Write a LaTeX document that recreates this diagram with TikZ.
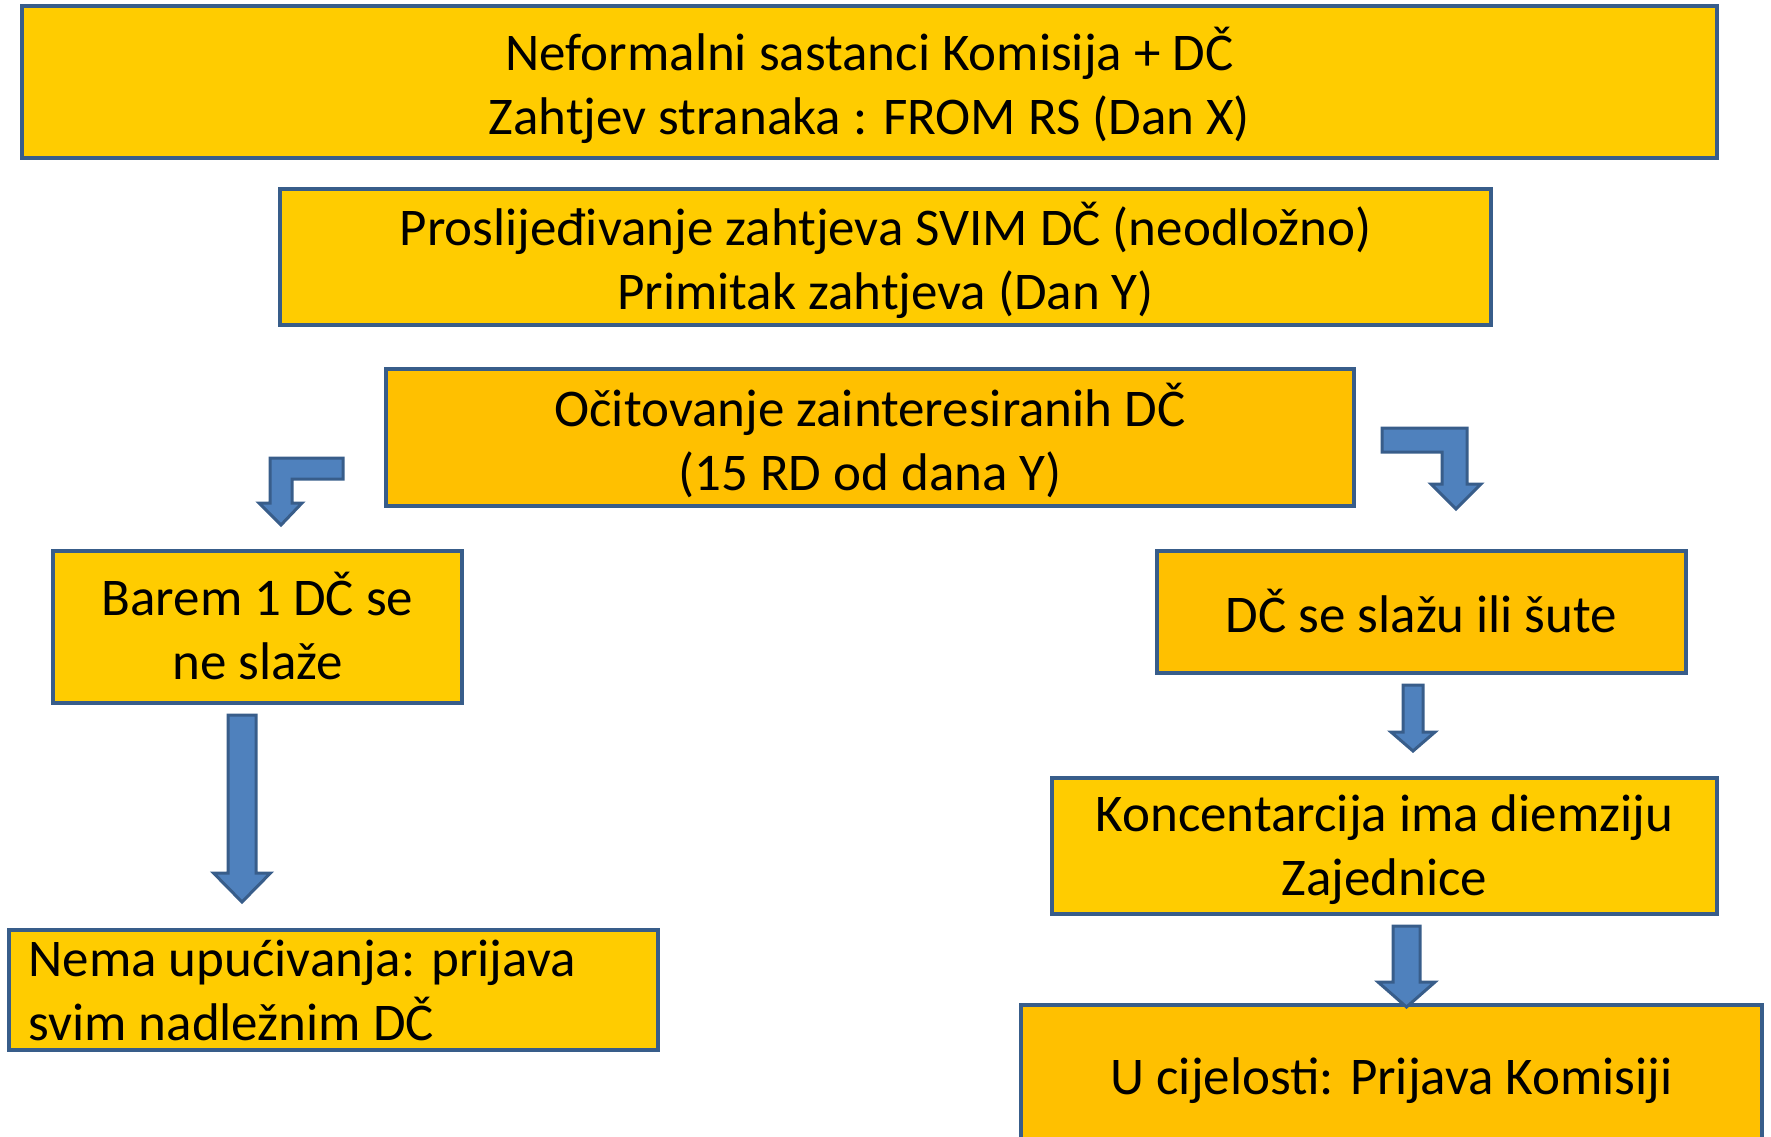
\documentclass[tikz,border=0pt]{standalone}
\usepackage{fontspec}
\setmainfont{Carlito}
\definecolor{gold}{HTML}{FFCC00}
\definecolor{amber}{HTML}{FFC000}
\definecolor{frame}{HTML}{385D8A}
\definecolor{arrowblue}{HTML}{4F81BD}
\begin{document}
\begin{tikzpicture}[x=1pt,y=-1pt,line join=miter]
		\tikzset{box/.style={draw=frame,line width=4.5pt,rectangle,inner sep=0pt,font=\fontsize{53}{64}\selectfont,align=center,text depth=2pt},
			goldbox/.style={box,fill=gold},
			amberbox/.style={box,fill=amber},
			blockarrow/.style={draw=frame,fill=arrowblue,line width=3pt}}
		\useasboundingbox (0,0) rectangle (1771,1136);
		\node[goldbox,minimum width=1695pt,minimum height=152pt] (sastanci) at (869.5,82) {Neformalni sastanci Komisija + DČ\\Zahtjev stranaka : FROM RS (Dan X)};
		\node[goldbox,minimum width=1211pt,minimum height=136pt] (prosljedivanje) at (885.5,257) {Proslijeđivanje zahtjeva SVIM DČ (neodložno)\\Primitak zahtjeva (Dan Y)};
		\node[amberbox,minimum width=968pt,minimum height=137pt] (ocitovanje) at (870,437.5) {Očitovanje zainteresiranih DČ\\(15 RD od dana Y)};
		\node[goldbox,minimum width=409pt,minimum height=152pt] (barem) at (257.5,627) {Barem 1 DČ se\\ne slaže};
		\node[amberbox,minimum width=529pt,minimum height=122pt] (slazu) at (1421.5,612) {DČ se slažu ili šute};
		\node[goldbox,minimum width=649pt,minimum height=120pt,align=flush left,text width=610pt,text depth={}] (nema) at (333.5,990) {Nema upućivanja: prijava\\svim nadležnim DČ};
		\node[goldbox,minimum width=665pt,minimum height=136pt] (koncentracija) at (1384.5,846) {Koncentarcija ima diemziju\\Zajednice};
		\node[amberbox,minimum width=741pt,minimum height=260pt] (cijelost) at (1391.5,1135) {};
		\node[font=\fontsize{53}{64}\selectfont,text depth=2pt] (prijava) at (1391.5,1077) {U cijelosti: Prijava Komisiji};
		% savijene strelice
		\draw[blockarrow] (343,458) -- (270,458) -- (270,503) -- (259,503) -- (281,525) -- (302,503) -- (292,503) -- (292,479) -- (343,479) -- cycle;
		\draw[blockarrow] (1382,428) -- (1467,428) -- (1467,484) -- (1481,484) -- (1456,509) -- (1431,484) -- (1442,484) -- (1442,452) -- (1382,452) -- cycle;
		% ravne strelice
		\foreach \xc/\ya/\yb/\yc/\w/\h in {242/715/873/902/14/28.5,1413/685/732/751/10/22,1406.5/926/982/1007/13.5/28.5}
		\draw[blockarrow] (\xc-\w,\ya) -- (\xc+\w,\ya) -- (\xc+\w,\yb) -- (\xc+\h,\yb) -- (\xc,\yc) -- (\xc-\h,\yb) -- (\xc-\w,\yb) -- cycle;
\end{tikzpicture}
\end{document}
